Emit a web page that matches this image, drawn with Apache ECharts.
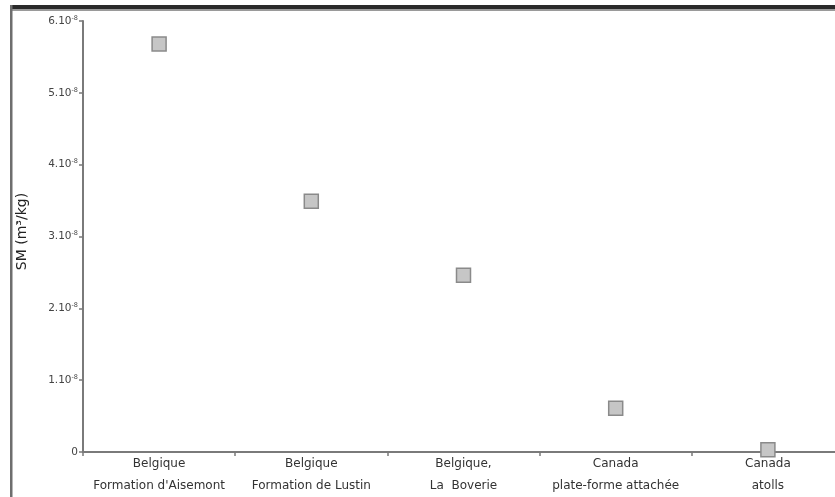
<!DOCTYPE html>
<html><head><meta charset="utf-8">
<script src="https://cdn.jsdelivr.net/npm/echarts@6/dist/echarts.min.js"></script>
<style>html,body{margin:0;padding:0;background:#fff;overflow:hidden}#c{width:850px;height:497px}</style>
</head><body><div id="c"></div>
<script>
const categories = ["Belgique\nFormation d'Aisemont", "Belgique\nFormation de Lustin", "Belgique,\nLa  Boverie", "Canada\nplate-forme attachée", "Canada\natolls"];
const smValues = [5.68, 3.49, 2.46, 0.61, 0.03]; // in units of 10^-8 m3/kg
const yTickLabels = ["0", "1.10", "2.10", "3.10", "4.10", "5.10", "6.10"];
const yExponent = "-8";
const yTitle = "SM (m³/kg)";

const chart = echarts.init(document.getElementById('c'), null, {renderer: 'canvas'});
chart.setOption({
  animation: false,
  backgroundColor: '#fff',
  grid: {left: 83, top: 21, bottom: 40, right: 6, containLabel: false},
  graphic: [
    {type: 'rect', shape: {x: 10, y: 5, width: 840, height: 4}, style: {fill: '#2a2a2a'}},
    {type: 'rect', shape: {x: 10, y: 9, width: 840, height: 2}, style: {fill: '#9a9a9a'}},
    {type: 'rect', shape: {x: 10, y: 5, width: 2.5, height: 492}, style: {fill: '#6e6e6e'}}
  ],
  xAxis: {
    type: 'category', data: categories, boundaryGap: true,
    axisLine: {lineStyle: {color: '#7a7a7a', width: 2}},
    axisTick: {show: true, length: 4, lineStyle: {color: '#7a7a7a', width: 1.5}},
    axisLabel: {interval: 0, color: '#333', fontFamily: 'DejaVu Sans', fontSize: 12, lineHeight: 22, margin: 1}
  },
  yAxis: {
    type: 'value', min: 0, max: 6, interval: 1,
    name: yTitle, nameLocation: 'middle', nameRotate: 90, nameGap: 54,
    nameTextStyle: {color: '#222', fontFamily: 'DejaVu Sans', fontSize: 14, padding: [0, 0, 0, 10]},
    splitLine: {show: false},
    axisLine: {show: true, lineStyle: {color: '#7a7a7a', width: 2}},
    axisTick: {show: true, length: 4, lineStyle: {color: '#7a7a7a', width: 1.5}},
    axisLabel: {
      color: '#444', fontFamily: 'DejaVu Sans', fontSize: 10.5, margin: 5,
      formatter: function (v) {
        const i = Math.round(v);
        if (i === 0) return yTickLabels[0];
        return yTickLabels[i] + '{sup|' + yExponent + '}';
      },
      rich: {sup: {fontSize: 6.5, fontFamily: 'DejaVu Sans', verticalAlign: 'top', color: '#444', padding: [0, 0, 6, 0]}}
    }
  },
  series: [{
    type: 'scatter', data: smValues, symbol: 'rect', symbolSize: 14,
    itemStyle: {color: '#c6c6c6', borderColor: '#8a8a8a', borderWidth: 1.5, opacity: 1},
    clip: false
  }]
});
</script></body></html>
